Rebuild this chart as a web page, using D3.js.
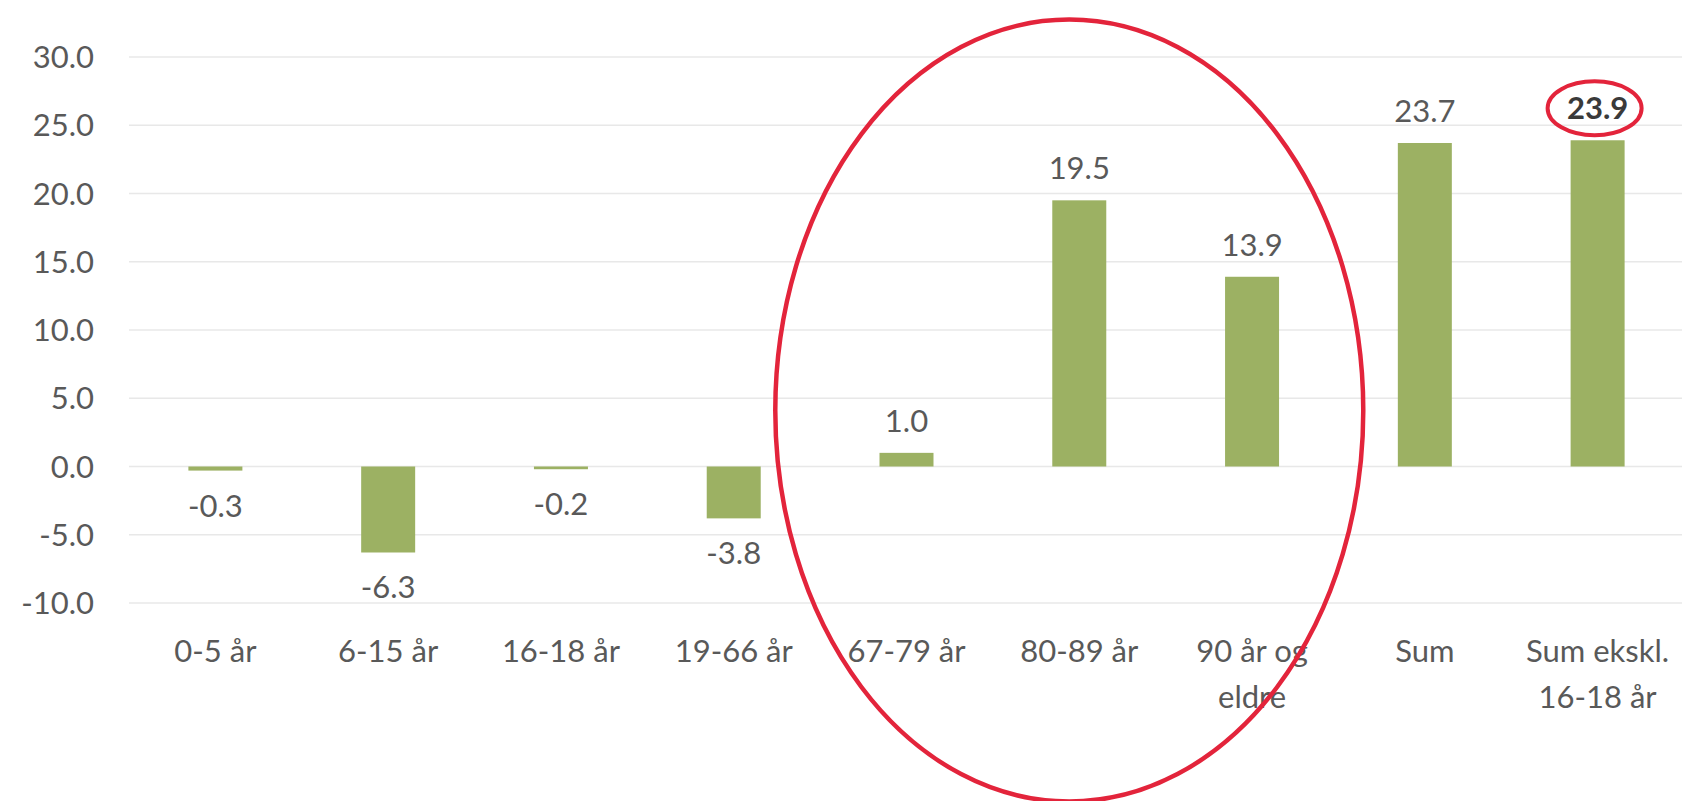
<!DOCTYPE html>
<meta charset="UTF-8">
<script src="https://d3js.org/d3.v7.min.js"></script>
<style>
  body { margin: 0; background: #fff; }
  text { font-family: Lato, "Open Sans", sans-serif; fill: #595959; }
</style>
<svg id="chart" width="1682" height="801"></svg>
<script>
// data
var categories = ["0-5 år", "6-15 år", "16-18 år", "19-66 år", "67-79 år", "80-89 år", "90 år og\neldre", "Sum", "Sum ekskl.\n16-18 år"];
var values = [-0.3, -6.3, -0.2, -3.8, 1.0, 19.5, 13.9, 23.7, 23.9];
var yTicks = [-10, -5, 0, 5, 10, 15, 20, 25, 30];
var boldIndex = 8;

var svg = d3.select("#chart"),
  width = +svg.attr("width"),
  height = +svg.attr("height");

var x = d3.scaleBand()
  .domain(categories)
  .range([129, 1684])
  .paddingInner(0.6875)
  .paddingOuter(0.34375);

var y = d3.scaleLinear()
  .domain([-10, 30])
  .range([603, 57]);

// gridlines
svg.append("g")
  .selectAll("line")
  .data(yTicks)
  .enter().append("line")
    .attr("x1", 129)
    .attr("x2", width)
    .attr("y1", function(d) { return y(d); })
    .attr("y2", function(d) { return y(d); })
    .attr("stroke", "#e8e8e8")
    .attr("stroke-width", 1.5);

// y axis labels
svg.append("g")
  .selectAll("text")
  .data(yTicks)
  .enter().append("text")
    .attr("x", 94)
    .attr("y", function(d) { return y(d); })
    .attr("dy", "0.36em")
    .attr("text-anchor", "end")
    .style("font-size", "31px")
    .text(function(d) { return d.toFixed(1); });

// bars
svg.append("g")
  .selectAll("rect")
  .data(values)
  .enter().append("rect")
    .attr("x", function(d, i) { return x(categories[i]); })
    .attr("width", x.bandwidth())
    .attr("y", function(d) { return y(Math.max(0, d)); })
    .attr("height", function(d) { return Math.abs(y(d) - y(0)); })
    .attr("fill", "#9cb163");

// value labels
svg.append("g")
  .selectAll("text")
  .data(values)
  .enter().append("text")
    .attr("x", function(d, i) { return x(categories[i]) + x.bandwidth() / 2; })
    .attr("y", function(d) { return d >= 0 ? y(d) - 21 : y(d) + 46; })
    .attr("text-anchor", "middle")
    .style("font-size", "31px")
    .style("font-weight", function(d, i) { return i === boldIndex ? "bold" : "normal"; })
    .style("fill", function(d, i) { return i === boldIndex ? "#3a3a3a" : "#595959"; })
    .text(function(d) { return d.toFixed(1); });

// category labels (wrapped)
var cat = svg.append("g")
  .selectAll("text")
  .data(categories)
  .enter().append("text")
    .attr("x", function(d) { return x(d) + x.bandwidth() / 2; })
    .attr("y", 662)
    .attr("text-anchor", "middle")
    .style("font-size", "31px");
cat.selectAll("tspan")
  .data(function(d) { return d.split("\n"); })
  .enter().append("tspan")
    .attr("x", function() { return d3.select(this.parentNode).attr("x"); })
    .attr("dy", function(d, i) { return i === 0 ? 0 : 46; })
    .text(function(d) { return d; });

// red annotation ellipses
var bigCx = x(categories[5]) + x.bandwidth() / 2 - 10;
svg.append("ellipse")
  .attr("cx", bigCx)
  .attr("cy", y(4.1))
  .attr("rx", 294)
  .attr("ry", 391)
  .attr("fill", "none")
  .attr("stroke", "#e3243b")
  .attr("stroke-width", 4.5);

svg.append("ellipse")
  .attr("cx", x(categories[boldIndex]) + x.bandwidth() / 2 - 3)
  .attr("cy", y(values[boldIndex]) - 32)
  .attr("rx", 47)
  .attr("ry", 27)
  .attr("fill", "none")
  .attr("stroke", "#e3243b")
  .attr("stroke-width", 4);
</script>
